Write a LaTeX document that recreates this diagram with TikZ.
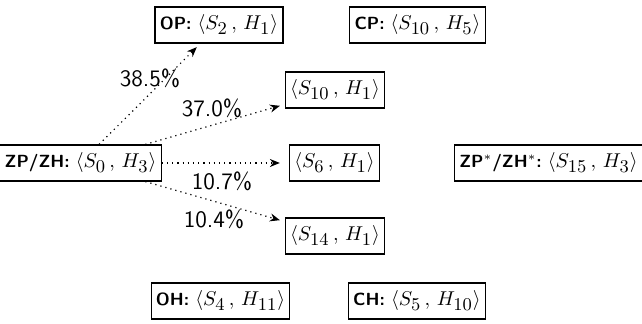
\documentclass[tikz,border=0pt]{standalone}
\usetikzlibrary{arrows.meta}
\tikzset{
  state/.style={draw, line width=0.6pt, inner xsep=2.4pt, inner ysep=3.3pt, minimum height=18pt,
                font=\fontsize{8.8}{11}\selectfont\sffamily},
  trans/.style={dotted, line width=0.6pt, -{Stealth[length=5pt, width=4pt]}},
  prob/.style={font=\fontsize{11.8}{13}\selectfont\sffamily, inner sep=0pt}
}
\newcommand{\stlabel}[1]{\textbf{#1:}~}
% state pair <S_i, H_j> with enlarged indices
\newcommand{\idx}[1]{\mbox{\fontsize{8.6}{9}\selectfont$#1$}}
\newcommand{\pair}[2]{{\fontsize{10}{11}\selectfont$\langle S_{\idx{#1}}\,,\, H_{\idx{#2}}\rangle$}}
\begin{document}
\begin{tikzpicture}[x=0.5pt, y=-0.5pt]
  \useasboundingbox (0,0) rectangle (642,324);
  % states
  \node[state] (zp)  at (80.5,163)  {\stlabel{ZP/ZH}\pair{0}{3}};
  \node[state] (op)  at (219,25)    {\stlabel{OP}\pair{2}{1}};
  \node[state] (cp)  at (417.5,25)  {\stlabel{CP}\pair{10}{5}};
  \node[state] (s10) at (335,90)    {\pair{10}{1}};
  \node[state] (s6)  at (334.5,163) {\pair{6}{1}};
  \node[state] (zps) at (548.5,163) {\stlabel{ZP$^*$/ZH$^*$}\pair{15}{3}};
  \node[state] (s14) at (335,236)   {\pair{14}{1}};
  \node[state] (oh)  at (220.5,301) {\stlabel{OH}\pair{4}{11}};
  \node[state] (ch)  at (417,301)   {\stlabel{CH}\pair{5}{10}};
  % transitions out of ZP/ZH
  \draw[trans, shorten >=2.5pt] (zp) -- (op);
  \draw[trans, shorten >=2.5pt] (zp) -- (s10);
  \draw[trans, shorten >=4.5pt] (zp) -- (s6);
  \draw[trans, shorten >=2.5pt] (zp) -- (s14);
  % probabilities
  \node[prob] (p1) at (150,78)  {38.5\%};
  \node[prob] (p2) at (212,108) {37.0\%};
  \node[prob] (p3) at (222,181) {10.7\%};
  \node[prob] (p4) at (214,219) {10.4\%};
\end{tikzpicture}
\end{document}
